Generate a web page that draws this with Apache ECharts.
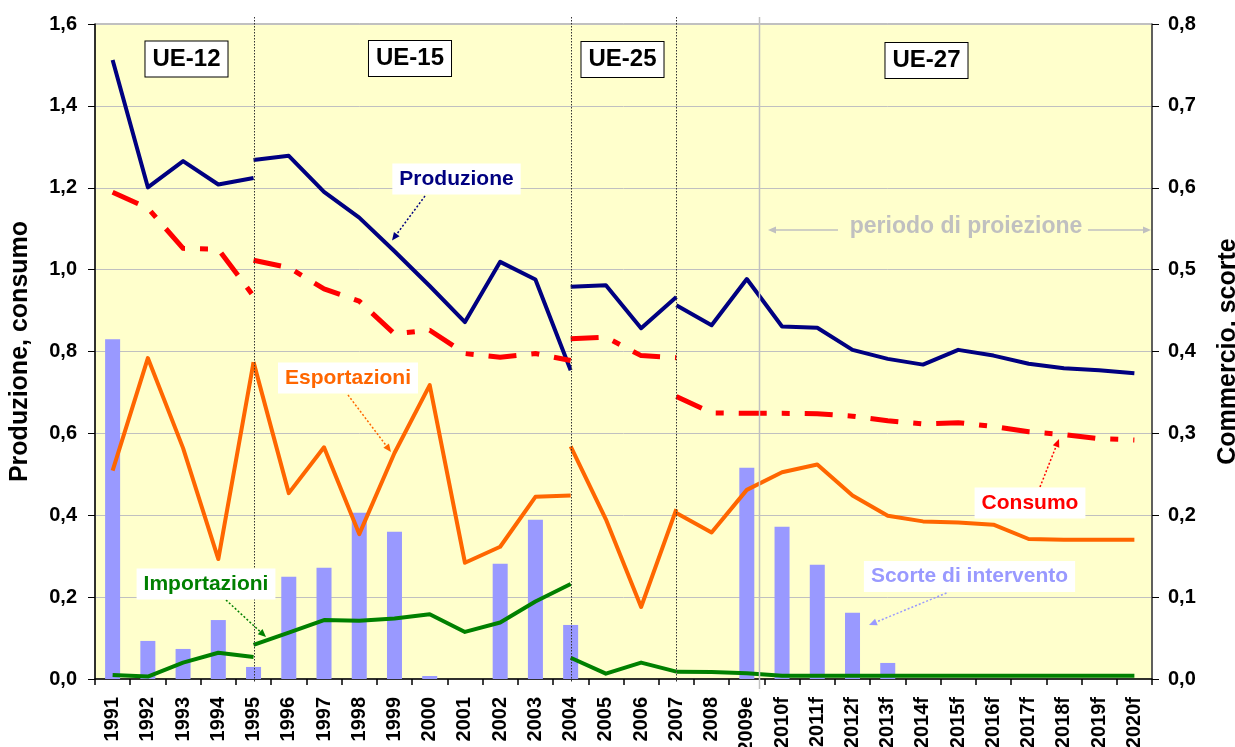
<!DOCTYPE html>
<html><head><meta charset="utf-8">
<script src="https://cdn.jsdelivr.net/npm/echarts@6/dist/echarts.min.js"></script>
<style>html,body{margin:0;padding:0;background:#fff}#c{width:1235px;height:747px}</style>
</head><body><div id="c"></div>
<script>
// Categories
const years = ['1991','1992','1993','1994','1995','1996','1997','1998','1999','2000','2001','2002','2003','2004','2005','2006','2007','2008','2009e','2010f','2011f','2012f','2013f','2014f','2015f','2016f','2017f','2018f','2019f','2020f'];
// Segment start indices (UE-12 from 1991, UE-15 from 1995, UE-25 from 2004, UE-27 from 2007)
const segStart = {ue12: 0, ue15: 4, ue25: 13, ue27: 16};

// Produzione (left axis)
const prodUE12 = [1.512, 1.201, 1.265, 1.208, 1.224];
const prodUE15 = [1.268, 1.278, 1.190, 1.127, 1.045, 0.960, 0.872, 1.019, 0.976, 0.754];
const prodUE25 = [0.958, 0.962, 0.857, 0.933];
const prodUE27 = [0.913, 0.864, 0.977, 0.861, 0.858, 0.804, 0.782, 0.768, 0.804, 0.790, 0.770, 0.759, 0.754, 0.747];

// Consumo (left axis)
const consUE12 = [1.189, 1.150, 1.052, 1.050, 0.935];
const consUE15 = [1.023, 1.005, 0.953, 0.923, 0.843, 0.852, 0.795, 0.786, 0.795, 0.778];
const consUE25 = [0.831, 0.835, 0.790, 0.785];
const consUE27 = [0.690, 0.650, 0.649, 0.649, 0.648, 0.642, 0.631, 0.623, 0.626, 0.617, 0.604, 0.597, 0.587, 0.584];

// Esportazioni (right axis)
const expUE12 = [0.2545, 0.392, 0.282, 0.1465, 0.387];
const expUE15 = [0.387, 0.227, 0.283, 0.177, 0.276, 0.359, 0.142, 0.1615, 0.2225, 0.224];
const expUE25 = [0.284, 0.195, 0.088, 0.2075];
const expUE27 = [0.2027, 0.179, 0.231, 0.2525, 0.262, 0.224, 0.1995, 0.1925, 0.191, 0.1885, 0.171, 0.170, 0.170, 0.170];

// Importazioni (right axis)
const impUE12 = [0.0049, 0.003, 0.020, 0.032, 0.027];
const impUE15 = [0.0416, 0.0567, 0.072, 0.071, 0.074, 0.079, 0.0575, 0.069, 0.0946, 0.116];
const impUE25 = [0.026, 0.0065, 0.020, 0.009];
const impUE27 = [0.009, 0.0085, 0.007, 0.004, 0.004, 0.004, 0.004, 0.004, 0.004, 0.004, 0.004, 0.004, 0.004, 0.004];

// Scorte di intervento (right axis, bars)
const scorte = [0.415, 0.0465, 0.0367, 0.072, 0.0147, 0.125, 0.136, 0.203, 0.180, 0.0037, 0, 0.1407, 0.1946, 0.066, 0, 0, 0, 0, 0.258, 0.186, 0.1395, 0.081, 0.0196, 0, 0, 0, 0, 0, 0, 0];

// Axis ticks
const leftTicks = {min: 0, max: 1.6, interval: 0.2};
const rightTicks = {min: 0, max: 0.8, interval: 0.1};

const FONT = "'Liberation Sans', Arial, sans-serif";
function place(arr, start) {
  const out = years.map(() => null);
  arr.forEach((v, i) => { out[start + i] = v; });
  return out;
}
function lineSeries(name, arr, start, axis, color, width, type) {
  return {
    name: name, type: 'line', yAxisIndex: axis, data: place(arr, start),
    symbol: 'none', connectNulls: false, silent: true, z: 3,
    lineStyle: {color: color, width: width, type: type || 'solid', cap: 'butt', join: 'round'}
  };
}
const fmt = v => v.toFixed(1).replace('.', ',');
const dashDot = [28, 15, 8, 15];

const series = [
  {name: 'Scorte di intervento', type: 'bar', yAxisIndex: 1, data: scorte, barWidth: 15,
   itemStyle: {color: '#9999FF'}, silent: true, z: 2},
  lineSeries('Produzione UE-12', prodUE12, segStart.ue12, 0, '#000080', 4),
  lineSeries('Produzione UE-15', prodUE15, segStart.ue15, 0, '#000080', 4),
  lineSeries('Produzione UE-25', prodUE25, segStart.ue25, 0, '#000080', 4),
  lineSeries('Produzione UE-27', prodUE27, segStart.ue27, 0, '#000080', 4),
  lineSeries('Consumo UE-12', consUE12, segStart.ue12, 0, '#FF0000', 5, dashDot),
  lineSeries('Consumo UE-15', consUE15, segStart.ue15, 0, '#FF0000', 5, dashDot),
  lineSeries('Consumo UE-25', consUE25, segStart.ue25, 0, '#FF0000', 5, dashDot),
  lineSeries('Consumo UE-27', consUE27, segStart.ue27, 0, '#FF0000', 5, dashDot),
  lineSeries('Esportazioni UE-12', expUE12, segStart.ue12, 1, '#FF6600', 4),
  lineSeries('Esportazioni UE-15', expUE15, segStart.ue15, 1, '#FF6600', 4),
  lineSeries('Esportazioni UE-25', expUE25, segStart.ue25, 1, '#FF6600', 4),
  lineSeries('Esportazioni UE-27', expUE27, segStart.ue27, 1, '#FF6600', 4),
  lineSeries('Importazioni UE-12', impUE12, segStart.ue12, 1, '#008000', 4),
  lineSeries('Importazioni UE-15', impUE15, segStart.ue15, 1, '#008000', 4),
  lineSeries('Importazioni UE-25', impUE25, segStart.ue25, 1, '#008000', 4),
  lineSeries('Importazioni UE-27', impUE27, segStart.ue27, 1, '#008000', 4)
];

const chart = echarts.init(document.getElementById('c'), null, {renderer: 'canvas'});
chart.setOption({
  animation: false,
  backgroundColor: '#ffffff',
  textStyle: {fontFamily: FONT},
  grid: {left: 95, right: 83, top: 24, bottom: 68, show: true, backgroundColor: '#FFFFCC', borderColor: '#808080', borderWidth: 1,
         containLabel: false, outerBoundsMode: 'none'},
  xAxis: {
    type: 'category', data: years, boundaryGap: true,
    axisLine: {show: true, lineStyle: {color: '#000', width: 1.5}},
    axisTick: {show: true, length: 6, lineStyle: {color: '#000', width: 1.5}},
    axisLabel: {rotate: 90, interval: 0, fontSize: 20, fontWeight: 'bold', color: '#000', margin: 18, fontFamily: FONT, hideOverlap: false},
    splitLine: {show: false}
  },
  yAxis: [
    {type: 'value', position: 'left', min: leftTicks.min, max: leftTicks.max, interval: leftTicks.interval,
     axisLine: {show: true, lineStyle: {color: '#000', width: 1.5}},
     axisTick: {show: true, length: 7, lineStyle: {color: '#000', width: 1}},
     axisLabel: {formatter: fmt, fontSize: 20, fontWeight: 'bold', color: '#000', margin: 18, fontFamily: FONT},
     splitLine: {show: true, lineStyle: {color: '#C0C0C0', width: 1}},
     name: 'Produzione, consumo', nameLocation: 'middle', nameGap: 62,
     nameTextStyle: {fontSize: 25, fontWeight: 'bold', color: '#000', fontFamily: FONT}},
    {type: 'value', position: 'right', min: rightTicks.min, max: rightTicks.max, interval: rightTicks.interval,
     axisLine: {show: true, lineStyle: {color: '#404040', width: 1.5}},
     axisTick: {show: true, length: 7, lineStyle: {color: '#000', width: 1}},
     axisLabel: {formatter: fmt, fontSize: 20, fontWeight: 'bold', color: '#000', margin: 16, fontFamily: FONT},
     splitLine: {show: false},
     name: 'Commercio, scorte', nameLocation: 'middle', nameGap: 64,
     nameTextStyle: {fontSize: 25, fontWeight: 'bold', color: '#000', fontFamily: FONT}}
  ],
  series: series
});

// Annotations
function px(cat) { return chart.convertToPixel({xAxisIndex: 0}, cat); }
const yTop = chart.convertToPixel({yAxisIndex: 0}, leftTicks.max);
const yBot = chart.convertToPixel({yAxisIndex: 0}, leftTicks.min);
const g = [];
function vline(x, y1, y2, color, width, dash) {
  g.push({type: 'line', silent: true, z: 50, shape: {x1: x, y1: y1, x2: x, y2: y2},
          style: {stroke: color, lineWidth: width, lineDash: dash || null}});
}
['1995', '2004', '2007'].forEach(c => vline(Math.round(px(c)) + 0.5, yTop - 7, yBot + 3, '#333333', 1, [1.5, 1.5]));
const xProj = px('2009e') + 0.35 * (px('2010f') - px('2009e'));
vline(Math.round(xProj) + 0.5, yTop - 7, yBot + 10, '#C0C0C0', 1.5);

function arrow(x1, y1, x2, y2, color, dash, w) {
  const a = Math.atan2(y2 - y1, x2 - x1), L = 8, W = 3.5;
  const bx = x2 - L * Math.cos(a), by = y2 - L * Math.sin(a);
  g.push({type: 'line', silent: true, z: 60, shape: {x1: x1, y1: y1, x2: bx, y2: by},
          style: {stroke: color, lineWidth: w || 1.5, lineDash: dash ? [2, 2] : null}});
  g.push({type: 'polygon', silent: true, z: 60, shape: {points: [[x2, y2],
          [bx + W * Math.sin(a), by - W * Math.cos(a)], [bx - W * Math.sin(a), by + W * Math.cos(a)]]},
          style: {fill: color}});
}
function box(text, cx, cy, size, color, border) {
  g.push({type: 'text', silent: true, z: 70, x: cx, y: cy,
    style: {text: text, font: 'bold ' + size + 'px ' + FONT, fill: color, align: 'center', verticalAlign: 'middle',
      backgroundColor: '#ffffff', padding: border ? [6, 7, 5, 7] : [5, 7, 5, 7],
      borderColor: border ? '#000' : null, borderWidth: border ? 1 : 0,
      boxShadowColor: border ? '#000' : 'transparent', boxShadowOffsetX: border ? 1.5 : 0, boxShadowOffsetY: border ? 1.5 : 0, boxShadowBlur: 0}});
}
box('UE-12', 186.5, 59, 24, '#000', true);
box('UE-15', 410, 58.5, 24, '#000', true);
box('UE-25', 622.5, 59.5, 24, '#000', true);
box('UE-27', 926.5, 60.5, 24, '#000', true);

box('Produzione', 456.5, 179, 21, '#000080');
box('Esportazioni', 348, 378, 21, '#FF6600');
box('Importazioni', 206, 584, 21, '#008000');
box('Consumo', 1030, 503, 21, '#FF0000');
box('Scorte di intervento', 969.5, 576.5, 21, '#9999FF');

arrow(425, 196, 392, 240.5, '#000080', true);
arrow(348, 395, 391, 452, '#FF6600', true);
arrow(226, 600, 266, 637, '#008000', true);
arrow(1040, 487, 1059, 439, '#FF0000', true);
arrow(946.5, 593, 869, 625, '#9999FF', true);

// periodo di proiezione
g.push({type: 'text', silent: true, z: 70, x: 966, y: 227,
  style: {text: 'periodo di proiezione', font: 'bold 23px ' + FONT, fill: '#C0C0C0', align: 'center', verticalAlign: 'middle'}});
arrow(838, 230, 768, 230, '#C0C0C0', false, 1.5);
arrow(1088, 230, 1151, 230, '#C0C0C0', false, 1.5);

chart.setOption({graphic: g});
</script>
</body></html>
